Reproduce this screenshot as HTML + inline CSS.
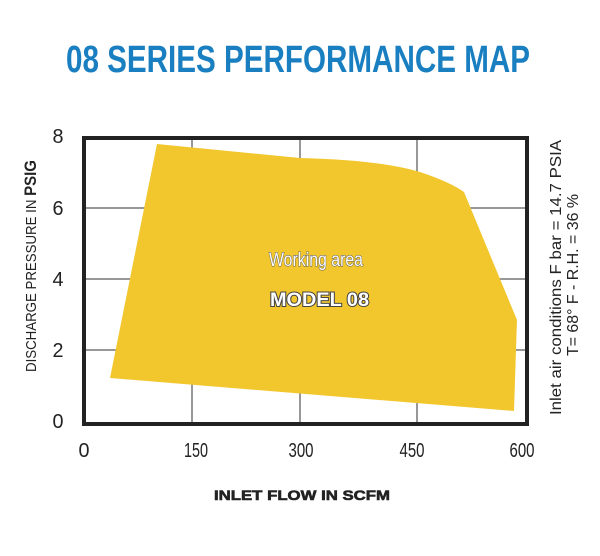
<!DOCTYPE html>
<html><head><meta charset="utf-8"><style>body{margin:0;background:#fff}svg{display:block}</style></head>
<body>
<svg width="600" height="556" viewBox="0 0 600 556" xmlns="http://www.w3.org/2000/svg">
<text x="66" y="72" font-family="Liberation Sans, sans-serif" font-weight="bold" font-size="38" fill="#1a7fc1" textLength="464" lengthAdjust="spacingAndGlyphs">08 SERIES PERFORMANCE MAP</text>
<rect x="84" y="138" width="443" height="286" fill="#fff"/>
<g stroke="#777" stroke-width="1.5">
<line x1="192" y1="138" x2="192" y2="424"/>
<line x1="300" y1="138" x2="300" y2="424"/>
<line x1="417" y1="138" x2="417" y2="424"/>
<line x1="84" y1="208" x2="527" y2="208"/>
<line x1="84" y1="279" x2="527" y2="279"/>
<line x1="84" y1="350" x2="527" y2="350"/>
</g>
<path d="M157,144 L300,158 Q380,160 420,172 Q450,182 464,192 L517,320 L514,411 L110,378 Z" fill="#f2c72e"/>
<rect x="84" y="138" width="443" height="286" fill="none" stroke="#222" stroke-width="4"/>
<g font-family="Liberation Sans, sans-serif" font-size="20" fill="#222" text-anchor="middle">
<text x="58" y="143" textLength="11" lengthAdjust="spacingAndGlyphs">8</text><text x="58" y="215" textLength="11" lengthAdjust="spacingAndGlyphs">6</text><text x="58" y="286" textLength="11" lengthAdjust="spacingAndGlyphs">4</text><text x="58" y="357" textLength="11" lengthAdjust="spacingAndGlyphs">2</text><text x="58" y="428" textLength="11" lengthAdjust="spacingAndGlyphs">0</text>
<text x="84" y="457" textLength="11" lengthAdjust="spacingAndGlyphs">0</text><text x="196" y="457" textLength="24" lengthAdjust="spacingAndGlyphs">150</text><text x="301" y="457" textLength="25" lengthAdjust="spacingAndGlyphs">300</text><text x="412" y="457" textLength="25" lengthAdjust="spacingAndGlyphs">450</text><text x="522" y="457" textLength="25" lengthAdjust="spacingAndGlyphs">600</text>
</g>
<text x="214" y="500" font-family="Liberation Sans, sans-serif" font-weight="900" font-size="14" fill="#222" stroke="#222" stroke-width="0.6" textLength="176" lengthAdjust="spacingAndGlyphs">INLET FLOW IN SCFM</text>
<text transform="translate(36,372) rotate(-90)" font-family="Liberation Sans, sans-serif" font-size="15" fill="#222" textLength="212" lengthAdjust="spacingAndGlyphs">DISCHARGE PRESSURE IN <tspan font-weight="900" font-size="17">PSIG</tspan></text>
<text transform="translate(561,415) rotate(-90)" font-family="Liberation Sans, sans-serif" font-size="16" fill="#222" textLength="275" lengthAdjust="spacingAndGlyphs">Inlet air conditions  F bar = 14.7 PSIA</text>
<text transform="translate(578,356) rotate(-90)" font-family="Liberation Sans, sans-serif" font-size="16" fill="#222" textLength="162" lengthAdjust="spacingAndGlyphs">T= 68° F - R.H. = 36 %</text>
<text x="269" y="266" font-family="Liberation Sans, sans-serif" font-size="19" fill="#fff" stroke="#555" stroke-width="1" paint-order="stroke" textLength="94" lengthAdjust="spacingAndGlyphs">Working area</text>
<text x="270" y="306" font-family="Liberation Sans, sans-serif" font-weight="900" font-size="19" fill="#fff" stroke="#444" stroke-width="2" paint-order="stroke" textLength="99" lengthAdjust="spacingAndGlyphs">MODEL  08</text>
</svg>
</body></html>
